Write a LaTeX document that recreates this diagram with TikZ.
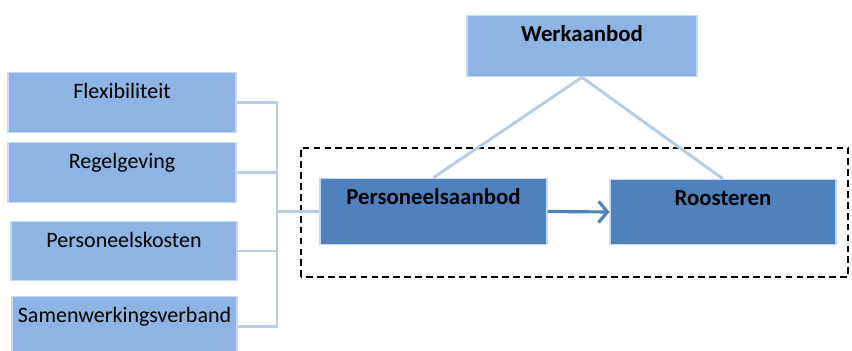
\documentclass[tikz,border=0pt]{standalone}
\usepackage{fontspec}
\setmainfont{Carlito}
\usetikzlibrary{arrows.meta}
\definecolor{lightfill}{RGB}{141,180,226}
\definecolor{darkfill}{RGB}{79,129,189}
\definecolor{linkblue}{RGB}{184,204,228}
\definecolor{rimblue}{RGB}{198,217,241}
\begin{document}
\begin{tikzpicture}[
  factor/.style={rectangle, draw=rimblue, fill=lightfill, line width=0.6pt,
    minimum width=4.56cm, inner ysep=0pt, text height=15pt, text depth=19pt,
    font=\fontsize{12.5}{15}\selectfont},
  core/.style={rectangle, draw=rimblue, fill=darkfill, line width=0.6pt,
    minimum width=4.54cm, inner ysep=0pt, text height=15pt, text depth=23pt,
    font=\bfseries\fontsize{13}{15}\selectfont},
  link/.style={draw=linkblue, line width=1.7pt},
  scale=1.0
]
  \useasboundingbox (0,0) rectangle (17.04,7.02);

  \node[factor] (flex)  at (2.44, 4.97) {Flexibiliteit};
  \node[factor] (regel) at (2.44, 3.57) {Regelgeving};
  \node[factor, minimum width=4.52cm] (kost)  at (2.48, 2.00) {Personeelskosten};
  \node[factor, minimum width=4.50cm] (samen) at (2.49, 0.49) {Samenwerkingsverband};

  \node[core, fill=lightfill, minimum width=4.6cm, text depth=20pt] (werk) at (11.64, 6.10) {Werkaanbod};
  \node[core] (aanbod) at (8.67, 2.79) {Personeelsaanbod};
  \node[core, minimum width=4.52cm, text depth=22pt] (rooster) at (14.46, 2.78) {Roosteren};

  \draw[dashed, line width=0.8pt, dash pattern=on 3.8pt off 2.4pt] (6.02, 1.48) rectangle (16.96, 4.06);

  \coordinate (bus) at (5.54, 2.79);
  \draw[link] (flex.east) -| (bus);
  \draw[link] (regel.east) -| (bus);
  \draw[link] (kost.east) -| (bus);
  \draw[link] (samen.east) -| (bus);
  \draw[link] (bus) -- (aanbod.west);

  \draw[link] (werk.south) -- (aanbod.north);
  \draw[link] (werk.south) -- (rooster.north);

  \draw[darkfill, line width=1.8pt, -{Straight Barb[length=5pt, width=12pt, line width=1.8pt]}] (aanbod.east) -- (rooster.west);
\end{tikzpicture}
\end{document}
